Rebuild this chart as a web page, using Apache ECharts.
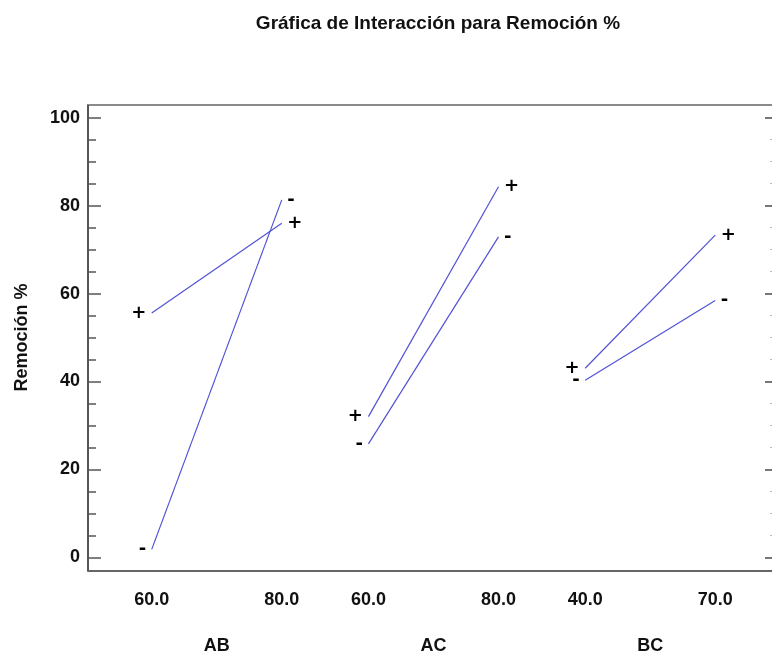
<!DOCTYPE html>
<html>
<head>
<meta charset="utf-8">
<title>Gráfica de Interacción para Remoción %</title>
<script src="https://cdn.jsdelivr.net/npm/echarts@6/dist/echarts.min.js"></script>
<style>
  html, body { margin: 0; padding: 0; background: #fff; }
  #chart { width: 772px; height: 657px; }
</style>
</head>
<body>
<div id="chart"></div>
<script>
// datos
var factores = ['AB', 'AC', 'BC'];
var nivelBajo = ['60.0', '60.0', '40.0'];
var nivelAlto = ['80.0', '80.0', '70.0'];
var masBajo = [55.6, 32.0, 43.0];
var masAlto = [76.0, 84.3, 73.3];
var menosBajo = [1.8, 25.8, 40.3];
var menosAlto = [81.3, 72.9, 58.4];
var ticksY = [0, 20, 40, 60, 80, 100];

var fuente = "'Liberation Sans', Arial, sans-serif";
var azul = '#5252d6';

// posicion horizontal de cada extremo (grupo i, nivel k)
function pos(i, k) { return i * 2.5 + k * 1.5; }

var posNiveles = [], textoNiveles = [], posFactores = [];
factores.forEach(function (f, i) {
    posNiveles.push(pos(i, 0), pos(i, 1));
    textoNiveles.push(nivelBajo[i], nivelAlto[i]);
    posFactores.push(pos(i, 0.5));
});

function punto(x, y, signo, k) {
    return {
        value: [x, y],
        label: {
            show: true,
            position: k === 0 ? 'left' : 'right',
            distance: 5,
            formatter: signo,
            color: '#000',
            fontWeight: 'bold',
            fontSize: 18,
            fontFamily: "'DejaVu Sans', sans-serif"
        }
    };
}

var series = [];
factores.forEach(function (f, i) {
    series.push({
        name: f + ' +', type: 'line', symbol: 'circle', symbolSize: 1,
        itemStyle: { color: 'rgba(0,0,0,0)' },
        lineStyle: { color: azul, width: 1.2 },
        silent: true,
        data: [punto(pos(i, 0), masBajo[i], '+', 0), punto(pos(i, 1), masAlto[i], '+', 1)]
    });
    series.push({
        name: f + ' -', type: 'line', symbol: 'circle', symbolSize: 1,
        itemStyle: { color: 'rgba(0,0,0,0)' },
        lineStyle: { color: azul, width: 1.2 },
        silent: true,
        data: [punto(pos(i, 0), menosBajo[i], '-', 0), punto(pos(i, 1), menosAlto[i], '-', 1)]
    });
});

var myChart = echarts.init(document.getElementById('chart'));
myChart.setOption({
    animation: false,
    backgroundColor: '#fff',
    title: {
        text: 'Gráfica de Interacción para Remoción %',
        left: 433, top: 9, textAlign: 'center',
        textStyle: { fontSize: 19, fontWeight: 'bold', color: '#111', fontFamily: fuente }
    },
    grid: { left: 88, right: 0, top: 117.7, bottom: 99.7 },
    graphic: [
        { type: 'rect', shape: { x: 88, y: 105, width: 690, height: 466 },
          style: { fill: 'none', stroke: '#8a8a8a', lineWidth: 2 }, z: 10 },
        { type: 'line', shape: { x1: 88, y1: 105, x2: 88, y2: 571 },
          style: { stroke: '#555', lineWidth: 2 }, z: 11 },
        { type: 'line', shape: { x1: 88, y1: 571, x2: 778, y2: 571 },
          style: { stroke: '#666', lineWidth: 2 }, z: 11 }
    ],
    xAxis: [{
        type: 'value', min: -0.735, max: 7.155,
        axisLine: { show: false, onZero: false }, axisTick: { show: false }, splitLine: { show: false },
        axisLabel: {
            customValues: posNiveles, margin: 34,
            fontSize: 18, fontWeight: 'bold', color: '#111', fontFamily: fuente,
            formatter: function (v) {
                for (var j = 0; j < posNiveles.length; j++) {
                    if (Math.abs(posNiveles[j] - v) < 1e-6) return textoNiveles[j];
                }
                return '';
            }
        }
    }, {
        type: 'value', position: 'bottom', min: -0.735, max: 7.155,
        axisLine: { show: false, onZero: false }, axisTick: { show: false }, splitLine: { show: false },
        axisLabel: {
            customValues: posFactores, margin: 80,
            fontSize: 18, fontWeight: 'bold', color: '#111', fontFamily: fuente,
            formatter: function (v) {
                for (var j = 0; j < posFactores.length; j++) {
                    if (Math.abs(posFactores[j] - v) < 1e-6) return factores[j];
                }
                return '';
            }
        }
    }],
    yAxis: [{
        type: 'value', position: 'left',
        min: ticksY[0], max: ticksY[ticksY.length - 1], interval: ticksY[1] - ticksY[0],
        name: 'Remoción %', nameLocation: 'middle', nameRotate: 90, nameGap: 57,
        nameTextStyle: { fontSize: 18, fontWeight: 'bold', color: '#111', fontFamily: fuente },
        axisLine: { show: true, onZero: false, lineStyle: { color: '#555', width: 2 } },
        axisTick: { show: true, inside: true, length: 13, lineStyle: { color: '#555', width: 1.5 } },
        minorTick: { show: true, splitNumber: 4, length: 8, lineStyle: { color: '#555', width: 1.5 } },
        splitLine: { show: false },
        axisLabel: { margin: 8, fontSize: 18, fontWeight: 'bold', color: '#111', fontFamily: fuente }
    }, {
        type: 'value', position: 'right', offset: 6,
        min: ticksY[0], max: ticksY[ticksY.length - 1], interval: ticksY[1] - ticksY[0],
        axisLine: { show: false, onZero: false },
        axisTick: { show: true, inside: true, length: 13, lineStyle: { color: '#777', width: 2 } },
        minorTick: { show: true, splitNumber: 4, length: 8, lineStyle: { color: '#bbb', width: 1 } },
        splitLine: { show: false },
        axisLabel: { show: false }
    }],
    series: series
});
</script>
</body>
</html>
